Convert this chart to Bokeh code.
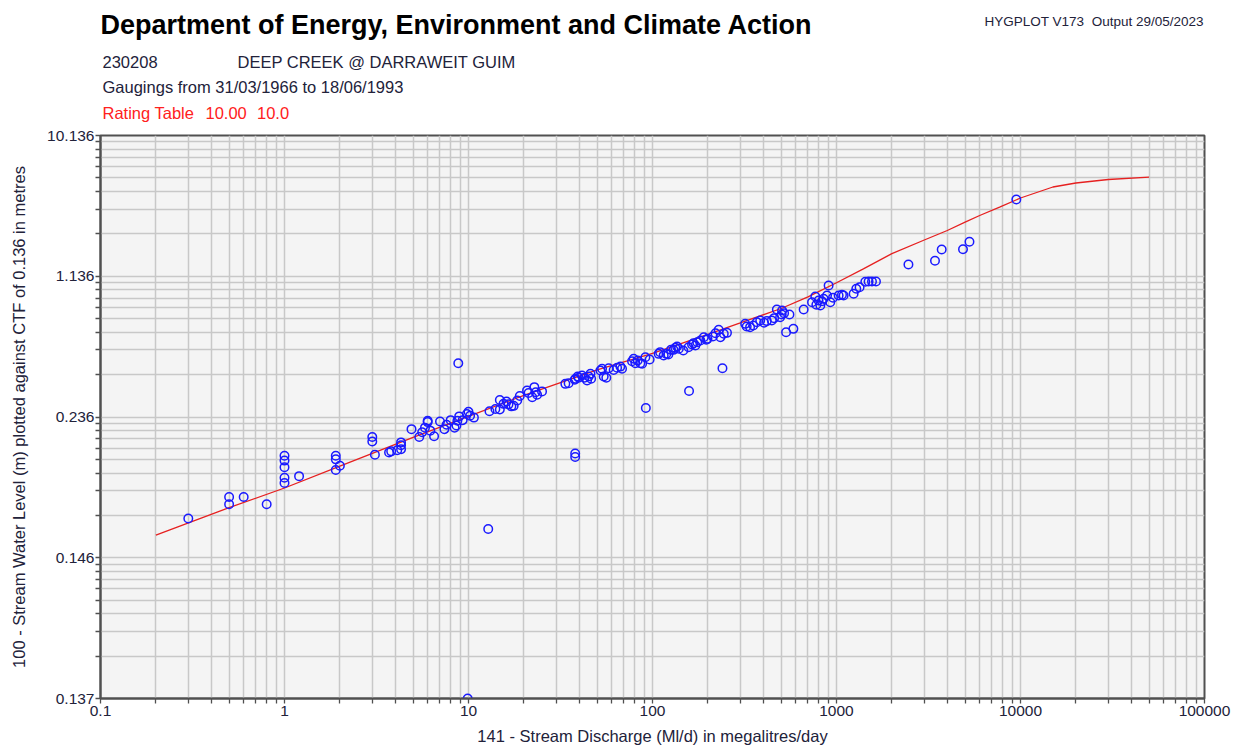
from bokeh.plotting import figure
from bokeh.layouts import column
from bokeh.models import FixedTicker, CustomJSTickFormatter, Range1d
from bokeh.core.properties import value
from bokeh.embed import file_html
from bokeh.resources import INLINE

# ---------------- data ----------------
CTF = 0.136  # cease-to-flow level (m)

gauging_q = [
    0.3, 0.5, 0.5, 0.6, 0.8,
    1.0, 1.0, 1.0, 1.0, 1.0, 1.2,
    1.9, 1.9, 1.9, 2.0,
    3.0, 3.0, 3.1, 3.7, 3.8, 4.1, 4.3, 4.3, 4.3, 4.9,
    5.4, 5.6, 5.8, 6.0, 6.0, 6.2, 6.5,
    7.0, 7.4, 7.6, 8.0, 8.4, 8.6, 8.7, 8.9, 9.3, 9.8, 10.0, 10.2, 10.7,
    8.8, 9.9, 12.8,
    13.0, 14.0, 14.8, 14.8, 15.5, 16.1, 16.5, 17.1, 17.6, 18.4, 19.0,
    20.8, 21.2, 22.2, 22.8, 23.2, 23.6, 25.1,
    33.6, 35.0, 37.8, 38.1, 39.2, 39.7, 41.4, 42.7, 44.1, 45.0, 46.0, 46.4,
    38.0, 38.0,
    52.1, 53.2, 54.3, 56.1, 57.8, 61.5, 64.2, 66.9, 68.3,
    77.4, 79.0, 80.7, 83.1, 85.9, 87.8, 91.5, 96.5, 92.0,
    108, 110, 115, 119, 122, 126, 130, 133, 136, 139,
    147, 157, 164, 167, 171, 175, 182, 190, 196, 199,
    213, 220, 229, 234, 244, 254, 158, 240,
    319, 325, 339, 353, 369, 385, 404, 418, 445, 458, 474, 494, 504, 506, 519, 555,
    532, 583,
    663, 736, 767, 777, 799, 817, 834, 851, 888, 906, 925, 957,
    1027, 1071, 1093, 1239, 1281, 1335, 1434, 1494, 1559, 1639,
    2460, 3430, 3730, 4870, 5280, 9490,
]
gauging_level = [
    0.155, 0.163, 0.160, 0.163, 0.160,
    0.189, 0.185, 0.180, 0.173, 0.170, 0.174,
    0.189, 0.186, 0.178, 0.181,
    0.208, 0.203, 0.190, 0.192, 0.193, 0.194, 0.195, 0.199, 0.202, 0.218,
    0.208, 0.214, 0.220, 0.228, 0.230, 0.216, 0.209,
    0.229, 0.218, 0.224, 0.231, 0.220, 0.223, 0.230, 0.237, 0.231, 0.241, 0.245, 0.238, 0.235,
    0.377, 0.137, 0.152,
    0.246, 0.250, 0.249, 0.268, 0.260, 0.265, 0.259, 0.255, 0.256, 0.267, 0.277,
    0.290, 0.284, 0.274, 0.299, 0.286, 0.280, 0.288,
    0.308, 0.310, 0.320, 0.323, 0.330, 0.326, 0.333, 0.326, 0.318, 0.330, 0.339, 0.323,
    0.191, 0.188,
    0.350, 0.356, 0.330, 0.326, 0.358, 0.352, 0.360, 0.364, 0.356,
    0.385, 0.395, 0.377, 0.388, 0.377, 0.375, 0.402, 0.392, 0.252,
    0.417, 0.425, 0.410, 0.417, 0.414, 0.436, 0.436, 0.446, 0.453, 0.441,
    0.433, 0.449, 0.463, 0.470, 0.458, 0.476, 0.486, 0.505, 0.490, 0.495,
    0.509, 0.530, 0.552, 0.505, 0.526, 0.532, 0.289, 0.358,
    0.595, 0.576, 0.571, 0.583, 0.608, 0.621, 0.603, 0.616, 0.621, 0.640, 0.716, 0.648, 0.671, 0.707, 0.682, 0.671,
    0.536, 0.559,
    0.716, 0.790, 0.854, 0.763, 0.809, 0.756, 0.801, 0.828, 0.866, 0.996, 0.790, 0.839,
    0.866, 0.874, 0.866, 0.886, 0.950, 0.972, 1.049, 1.054, 1.054, 1.054,
    1.348, 1.424, 1.685, 1.690, 1.893, 3.646,
]

rating_q = [0.2, 0.5, 1, 2, 5, 10, 20, 50, 100, 200, 300, 500, 700, 1000, 1400,
            2000, 3000, 4000, 5000, 6000, 7700, 10000, 15000, 20000, 30000, 50000]
rating_level = [0.1505, 0.1587, 0.1673, 0.1807, 0.2076, 0.237, 0.2786, 0.3518,
                0.419, 0.523, 0.602, 0.726, 0.850, 1.035, 1.265, 1.585, 1.945,
                2.250, 2.557, 2.838, 3.230, 3.733, 4.442, 4.734, 5.005, 5.191]

x_ticks = [0.1, 1, 10, 100, 1000, 10000, 100000]
x_tick_labels = ["0.1", "1", "10", "100", "1000", "10000", "100000"]
y_ticks = [0.001, 0.01, 0.1, 1, 10]          # depth above CTF
y_tick_labels = ["0.137", "0.146", "0.236", "1.136", "10.136"]

title_text = "Department of Energy, Environment and Climate Action"
site_id = "230208"
site_name = "DEEP CREEK @ DARRAWEIT GUIM"
period_text = "Gaugings from 31/03/1966 to 18/06/1993"
rating_parts = ["Rating Table", "10.00", "10.0"]
prog_text = "HYGPLOT V173"
output_text = "Output 29/05/2023"
x_label = "141 - Stream Discharge (Ml/d) in megalitres/day"
y_label = "100 - Stream Water Level (m) plotted against CTF of 0.136 in metres"

# ---------------- layout ----------------
W = 1242
FL, FR = 100, 1204                 # frame left / right in page px
HEAD_H, MAIN_H, FOOT_H = 123, 601, 22
FONT = "Liberation Sans"
TXT = "#22223a"
RED = "#ff2020"


def text_strip(height):
    # strip whose frame spans FL..FR, with data units equal to page pixels
    f = figure(width=W, height=height, title=None,
               x_range=Range1d(FL, FR), y_range=Range1d(height, 0),
               x_axis_location=None, y_axis_location=None, output_backend="svg",
               toolbar_location=None, min_border_left=FL, min_border_right=W - FR,
               min_border_top=0, min_border_bottom=0, outline_line_color=None,
               background_fill_color="white", border_fill_color="white")
    f.grid.visible = False
    return f


def put(f, xs, ys, texts, size_px, color=TXT, bold=False, align="left"):
    # ys are wanted baselines; the renderer sets text ~0.375 em lower, so lift it
    lift = 0.375 * size_px
    f.text(x=xs, y=[y - lift for y in ys], text=texts, text_font=value(FONT),
           text_font_size=value(f"{size_px}px"),
           text_font_style=value("bold" if bold else "normal"), text_color=color,
           text_align=align, text_baseline="alphabetic")


# header
head = text_strip(HEAD_H)
put(head, [100], [34.5], [title_text], 27, color="#000000", bold=True)
put(head, [984], [26.5], [prog_text], 13.5)
put(head, [1203], [26.5], [output_text], 13.5, align="right")
put(head, [102, 237, 102], [67.5, 67.5, 93], [site_id, site_name, period_text], 16.5)
put(head, [102, 205, 256.5], [118.5] * 3, rating_parts, 16.5, color=RED)

# main chart
p = figure(width=W, height=MAIN_H, title=None, x_axis_type="log", y_axis_type="log",
           x_range=Range1d(0.1, 100000), y_range=Range1d(0.001, 10),
           output_backend="svg", toolbar_location=None,
           min_border_left=FL, min_border_right=W - FR, min_border_top=12, min_border_bottom=26,
           background_fill_color="#f4f4f4", border_fill_color="white",
           outline_line_color="#505050", outline_line_width=2)

x_minor = [m * 10.0 ** e for e in range(-1, 5) for m in range(2, 10)]
y_minor = [m * 10.0 ** e for e in range(-3, 1) for m in range(2, 10)]
xt = FixedTicker(ticks=x_ticks, minor_ticks=x_minor)
yt = FixedTicker(ticks=y_ticks, minor_ticks=y_minor)
p.xaxis.ticker = xt
p.yaxis.ticker = yt
p.xgrid.ticker = xt
p.ygrid.ticker = yt

fmt_code = """
for (let i = 0; i < tvals.length; i++) {
  if (Math.abs(Math.log10(tvals[i]) - Math.log10(tick)) < 1e-6) return tlabs[i];
}
return "";
"""
p.xaxis.formatter = CustomJSTickFormatter(args=dict(tvals=x_ticks, tlabs=x_tick_labels), code=fmt_code)
p.yaxis.formatter = CustomJSTickFormatter(args=dict(tvals=y_ticks, tlabs=y_tick_labels), code=fmt_code)

for g in (p.xgrid, p.ygrid):
    g.grid_line_color = "#c8c8c8"
    g.grid_line_width = 1.5
    g.minor_grid_line_color = "#c8c8c8"
    g.minor_grid_line_width = 1.5

for ax in (p.xaxis, p.yaxis):
    ax.axis_line_color = "#505050"
    ax.axis_line_width = 2
    ax.major_tick_line_color = "#505050"
    ax.minor_tick_line_color = "#505050"
    ax.major_tick_line_width = 1.3
    ax.minor_tick_line_width = 1.3
    ax.major_tick_out = 5
    ax.major_tick_in = 0
    ax.minor_tick_out = 5
    ax.minor_tick_in = 0
    ax.major_label_text_font = FONT
    ax.major_label_text_font_size = "15.5px"
    ax.major_label_text_color = TXT
p.xaxis.major_label_standoff = 2
p.yaxis.major_label_standoff = 1
p.yaxis.axis_label = y_label
p.yaxis.axis_label_text_font = FONT
p.yaxis.axis_label_text_font_size = "16.5px"
p.yaxis.axis_label_text_font_style = "normal"
p.yaxis.axis_label_text_color = TXT
p.yaxis.axis_label_standoff = 16

# rating curve and gaugings (y plotted as depth above CTF on a log scale)
p.line(rating_q, [v - CTF for v in rating_level], line_color="#e62020", line_width=1.3)
p.scatter(gauging_q, [v - CTF for v in gauging_level], marker="circle", size=8.5,
          fill_color=None, line_color="#1a1aff", line_width=1.5)

# footer (x axis title)
foot = text_strip(FOOT_H)
put(foot, [652], [18], [x_label], 16.5, align="center")

layout = column(head, p, foot, spacing=0)
open("out.html", "w").write(file_html(layout, INLINE))
